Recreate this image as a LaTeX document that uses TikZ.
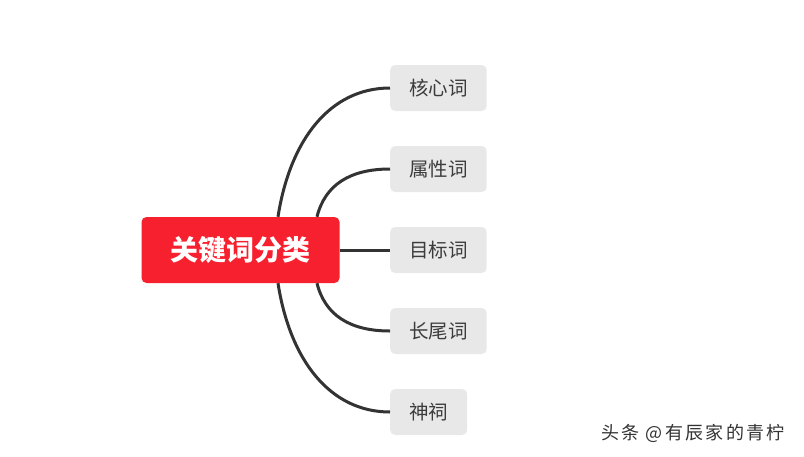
\documentclass[tikz,border=0pt]{standalone}
\usepackage{fontspec}
\setmainfont{Noto Sans CJK SC}
\newfontfamily\markfont[LetterSpace=13]{Noto Sans CJK SC}
\usetikzlibrary{positioning}

\definecolor{rootred}{RGB}{247,32,46}
\definecolor{leafgray}{RGB}{232,232,232}
\definecolor{linegray}{RGB}{51,51,51}
\definecolor{textgray}{RGB}{60,60,60}

\tikzset{
  rootbox/.style={fill=rootred, rounded corners=5pt, text=white, font=\fontsize{28}{30}\selectfont\bfseries,
    minimum height=66pt, inner xsep=29pt},
  leafbox/.style={fill=leafgray, rounded corners=5pt, text=textgray, font=\fontsize{19.5}{22}\selectfont,
    minimum height=46pt, inner xsep=19pt, anchor=west},
  branch/.style={draw=linegray, line width=3pt}
}

\begin{document}
\begin{tikzpicture}[x=1pt, y=-1pt]
  \path[use as bounding box, fill=white] (0,0) rectangle (804,456);

  % center topic
  \node (root) at (240.5,250) [rootbox] {关键词分类};

  % subtopics
  \node (core) at (390,88) [leafbox] {核心词};
  \node (attr) at (390,169) [leafbox] {属性词};
  \node (goal) at (390,250) [leafbox] {目标词};
  \node (tail) at (390,331) [leafbox] {长尾词};
  \node (god) at (390,412) [leafbox] {神祠};

  % where the branches leave the center topic
  \coordinate (outA) at ([xshift=37.5pt]root.north);
  \coordinate (outB) at ([xshift=76.5pt]root.north);
  \coordinate (outC) at ([xshift=76.5pt]root.south);
  \coordinate (outD) at ([xshift=37.5pt]root.south);

  \draw[branch] (outA) .. controls +(12,-77) and +(-60,0) .. (core.west);
  \draw[branch] (outB) .. controls +(8,-32) and +(-40,0) .. (attr.west);
  \draw[branch] (root.east) -- (goal.west);
  \draw[branch] (outC) .. controls +(8,32) and +(-40,0) .. (tail.west);
  \draw[branch] (outD) .. controls +(12,77) and +(-60,0) .. (god.west);

  % watermark
  \node (mark) at (601,433) [anchor=west, text=linegray, font=\markfont\fontsize{18}{20}\selectfont, inner sep=0pt] {头条 @有辰家的青柠};
\end{tikzpicture}
\end{document}
